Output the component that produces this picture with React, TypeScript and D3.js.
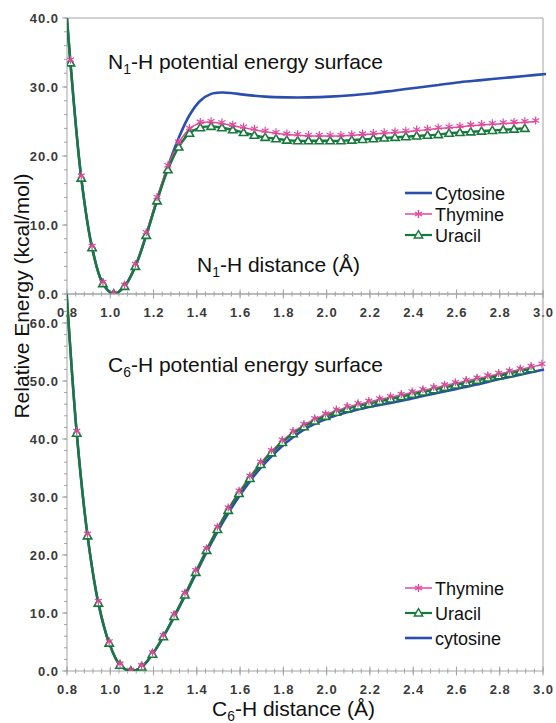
import React, { useEffect, useRef } from 'react';
import * as d3 from 'd3';

// N1-H scan (top panel)
const N1H_X = [0.766, 0.816, 0.866, 0.916, 0.966, 1.016, 1.066, 1.116, 1.166, 1.216, 1.266, 1.316, 1.366, 1.416, 1.466, 1.516, 1.566, 1.616, 1.666, 1.716, 1.766, 1.816, 1.866, 1.916, 1.966, 2.016, 2.066, 2.116, 2.166, 2.216, 2.266, 2.316, 2.366, 2.416, 2.466, 2.516, 2.566, 2.616, 2.666, 2.716, 2.766, 2.816, 2.866, 2.916, 2.966];
const N1H_THYMINE = [55.0, 33.8, 17.0, 6.8, 1.6, 0.0, 1.2, 4.2, 8.8, 13.9, 18.5, 21.9, 23.9, 24.8, 24.9, 24.7, 24.4, 24.1, 23.8, 23.5, 23.3, 23.1, 23.0, 22.9, 22.9, 22.9, 22.9, 23.0, 23.1, 23.2, 23.3, 23.4, 23.5, 23.7, 23.8, 24.0, 24.1, 24.2, 24.4, 24.5, 24.6, 24.7, 24.8, 24.9, 25.0];
const N1H_URACIL = [55.0, 33.5, 16.8, 6.7, 1.5, 0.0, 1.1, 4.0, 8.5, 13.5, 18.0, 21.3, 23.3, 24.1, 24.3, 24.1, 23.8, 23.4, 23.0, 22.7, 22.5, 22.3, 22.2, 22.2, 22.2, 22.2, 22.2, 22.3, 22.4, 22.5, 22.6, 22.7, 22.8, 22.9, 23.0, 23.1, 23.3, 23.4, 23.5, 23.6, 23.7, 23.8, 23.9, 24.0];
const N1H_CYT_X = [0.766, 0.816, 0.866, 0.916, 0.966, 1.016, 1.066, 1.116, 1.166, 1.216, 1.266, 1.316, 1.366, 1.416, 1.466, 1.516, 1.566, 1.616, 1.716, 1.816, 1.916, 2.016, 2.116, 2.216, 2.316, 2.416, 2.516, 2.616, 2.716, 2.816, 2.916, 3.016];
const N1H_CYTOSINE = [55.0, 33.5, 16.8, 6.7, 1.5, 0.0, 1.1, 4.0, 8.5, 13.6, 18.4, 22.6, 25.9, 28.0, 29.0, 29.2, 29.1, 28.9, 28.6, 28.5, 28.5, 28.6, 28.8, 29.1, 29.5, 29.9, 30.3, 30.7, 31.0, 31.3, 31.6, 31.9];

// C6-H scan (bottom panel)
const C6H_X = [0.795, 0.845, 0.895, 0.945, 0.995, 1.045, 1.095, 1.145, 1.195, 1.245, 1.295, 1.345, 1.395, 1.445, 1.495, 1.545, 1.595, 1.645, 1.695, 1.745, 1.795, 1.845, 1.895, 1.945, 1.995, 2.045, 2.095, 2.145, 2.195, 2.245, 2.295, 2.345, 2.395, 2.445, 2.495, 2.545, 2.595, 2.645, 2.695, 2.745, 2.795, 2.845, 2.895, 2.945, 2.995];
const C6H_THYMINE = [67.2, 41.2, 23.5, 11.9, 4.9, 1.1, 0.0, 0.8, 3.0, 6.0, 9.6, 13.3, 17.2, 21.0, 24.7, 28.0, 30.9, 33.5, 35.9, 37.9, 39.7, 41.2, 42.4, 43.4, 44.2, 44.9, 45.5, 46.0, 46.4, 46.8, 47.2, 47.6, 48.0, 48.4, 48.8, 49.2, 49.6, 50.0, 50.4, 50.8, 51.2, 51.6, 52.0, 52.4, 52.8];
const C6H_URACIL = [67.0, 41.0, 23.3, 11.7, 4.8, 1.0, 0.0, 0.7, 2.9, 5.9, 9.4, 13.1, 17.0, 20.8, 24.4, 27.7, 30.6, 33.2, 35.6, 37.6, 39.4, 40.9, 42.1, 43.1, 43.9, 44.6, 45.2, 45.7, 46.1, 46.5, 46.9, 47.3, 47.7, 48.1, 48.5, 48.9, 49.3, 49.7, 50.1, 50.5, 50.9, 51.3, 51.7, 52.1];
const C6H_CYT_X = [0.795, 0.845, 0.895, 0.945, 0.995, 1.045, 1.095, 1.145, 1.195, 1.245, 1.295, 1.345, 1.395, 1.445, 1.495, 1.545, 1.595, 1.645, 1.695, 1.745, 1.795, 1.845, 1.895, 1.945, 1.995, 2.045, 2.095, 2.195, 2.295, 2.395, 2.495, 2.595, 2.695, 2.795, 2.895, 3.005];
const C6H_CYTOSINE = [67.0, 41.0, 23.3, 11.7, 4.8, 1.0, 0.0, 0.7, 2.9, 5.9, 9.3, 12.9, 16.7, 20.5, 24.0, 27.2, 30.1, 32.7, 35.0, 37.0, 38.8, 40.3, 41.6, 42.6, 43.4, 44.1, 44.6, 45.5, 46.2, 47.0, 47.8, 48.6, 49.4, 50.3, 51.1, 52.0];

const X_TICKS = [0.8, 1.0, 1.2, 1.4, 1.6, 1.8, 2.0, 2.2, 2.4, 2.6, 2.8, 3.0];
const TOP_Y_TICKS = [0, 10, 20, 30, 40];
const BOTTOM_Y_TICKS = [0, 10, 20, 30, 40, 50, 60];

const BLUE = '#2b4eae';
const PINK = '#e2489e';
const GREEN = '#177a3c';
const AXIS = '#a3a3a3';
const FONT = '"Liberation Sans", Arial, sans-serif';

const W = 556;
const H = 723;
const LEFT = 67;
const RIGHT = 543;

const zip = (xs: number[], ys: number[]) => ys.map((y, i) => [xs[i], y] as [number, number]);

const STAR = 'M0,-4L0,4M-3.5,-2L3.5,2M-3.5,2L3.5,-2';
const TRI = 'M0,-4.3L4.2,3L-4.2,3Z';

const App = () => {
  const ref = useRef<SVGSVGElement>(null);

  useEffect(() => {
    document.body.style.margin = '0';
    const svg = d3.select(ref.current);
    svg.selectAll('*').remove();

    const x = d3.scaleLinear().domain([0.8, 3.0]).range([LEFT, RIGHT]);

    const tickText = (sel: any) =>
      sel
        .style('font-family', FONT)
        .style('font-size', '13px')
        .style('font-weight', 'bold')
        .style('letter-spacing', '1px')
        .style('fill', '#3a3a3a');

    const drawPanel = (
      id: string,
      yTop: number,
      yBottom: number,
      yMax: number,
      yTicks: number[],
      cyt: [number, number][],
      thy: [number, number][],
      ura: [number, number][],
    ) => {
      const y = d3.scaleLinear().domain([0, yMax]).range([yBottom, yTop]);
      const g = svg.append('g');

      g.append('clipPath')
        .attr('id', id)
        .append('rect')
        .attr('x', LEFT)
        .attr('y', yTop)
        .attr('width', RIGHT - LEFT + 3)
        .attr('height', yBottom - yTop);

      // frame: top + right in gray
      g.append('line').attr('x1', LEFT).attr('x2', RIGHT).attr('y1', yTop).attr('y2', yTop).attr('stroke', AXIS);
      g.append('line').attr('x1', RIGHT).attr('x2', RIGHT).attr('y1', yTop).attr('y2', yBottom).attr('stroke', AXIS);

      // y axis
      g.append('line').attr('x1', LEFT).attr('x2', LEFT).attr('y1', yTop).attr('y2', yBottom).attr('stroke', AXIS);
      const yMinor = d3.range(0, yMax + 0.001, 2);
      g.selectAll('.ymin')
        .data(yMinor)
        .enter()
        .append('line')
        .attr('x1', LEFT - 3)
        .attr('x2', LEFT)
        .attr('y1', d => y(d))
        .attr('y2', d => y(d))
        .attr('stroke', AXIS);
      g.selectAll('.ymaj')
        .data(yTicks)
        .enter()
        .append('line')
        .attr('x1', LEFT - 5)
        .attr('x2', LEFT)
        .attr('y1', d => y(d))
        .attr('y2', d => y(d))
        .attr('stroke', AXIS);
      g.selectAll('.ylab')
        .data(yTicks)
        .enter()
        .append('text')
        .attr('x', LEFT - 8)
        .attr('y', d => y(d) + 4.7)
        .attr('text-anchor', 'end')
        .call(tickText)
        .text(d => d3.format('.1f')(d));

      // x axis
      g.append('line').attr('x1', LEFT).attr('x2', RIGHT).attr('y1', yBottom).attr('y2', yBottom).attr('stroke', AXIS);
      const xMinor = d3.range(0.8, 3.0001, 0.04);
      g.selectAll('.xmin')
        .data(xMinor)
        .enter()
        .append('line')
        .attr('x1', d => x(d))
        .attr('x2', d => x(d))
        .attr('y1', yBottom - 2.5)
        .attr('y2', yBottom + 2.5)
        .attr('stroke', AXIS);
      g.selectAll('.xmaj')
        .data(X_TICKS)
        .enter()
        .append('line')
        .attr('x1', d => x(d))
        .attr('x2', d => x(d))
        .attr('y1', yBottom - 4.5)
        .attr('y2', yBottom + 4.5)
        .attr('stroke', AXIS);
      g.selectAll('.xlab')
        .data(X_TICKS)
        .enter()
        .append('text')
        .attr('x', d => x(d) + 0.5)
        .attr('y', yBottom + 23)
        .attr('text-anchor', 'middle')
        .call(tickText)
        .text(d => d3.format('.1f')(d));

      const line = d3
        .line<[number, number]>()
        .x(d => x(d[0]))
        .y(d => y(d[1]))
        .curve(d3.curveCatmullRom.alpha(0.5));

      const plot = g.append('g').attr('clip-path', `url(#${id})`);
      plot.append('path').attr('d', line(cyt)).attr('fill', 'none').attr('stroke', BLUE).attr('stroke-width', 2.6);
      plot.append('path').attr('d', line(thy)).attr('fill', 'none').attr('stroke', PINK).attr('stroke-width', 1.5);
      plot.append('path').attr('d', line(ura)).attr('fill', 'none').attr('stroke', GREEN).attr('stroke-width', 2.4);

      plot
        .selectAll('.tri')
        .data(ura)
        .enter()
        .append('path')
        .attr('d', TRI)
        .attr('transform', d => `translate(${x(d[0])},${y(d[1])})`)
        .attr('fill', '#fff')
        .attr('stroke', GREEN)
        .attr('stroke-width', 1.6);
      plot
        .selectAll('.star')
        .data(thy)
        .enter()
        .append('path')
        .attr('d', STAR)
        .attr('transform', d => `translate(${x(d[0])},${y(d[1]) - 1})`)
        .attr('fill', 'none')
        .attr('stroke', PINK)
        .attr('stroke-width', 1.2);
    };

    drawPanel('clipTop', 18, 294, 40, TOP_Y_TICKS,
      zip(N1H_CYT_X, N1H_CYTOSINE), zip(N1H_X, N1H_THYMINE), zip(N1H_X, N1H_URACIL));
    drawPanel('clipBottom', 294, 671, 65, BOTTOM_Y_TICKS,
      zip(C6H_CYT_X, C6H_CYTOSINE), zip(C6H_X, C6H_THYMINE), zip(C6H_X, C6H_URACIL));

    // titles with subscripts
    const subText = (xp: number, yp: number, a: string, sub: string, b: string, size: number) => {
      const t = svg
        .append('text')
        .attr('x', xp)
        .attr('y', yp)
        .style('font-family', FONT)
        .style('font-size', `${size}px`)
        .style('fill', '#111');
      t.append('tspan').text(a);
      t.append('tspan').attr('dy', 4.5).style('font-size', `${size * 0.66}px`).text(sub);
      t.append('tspan').attr('dy', -4.5).text(b);
    };
    subText(108, 69, 'N', '1', '-H potential energy surface', 21);
    subText(108, 372, 'C', '6', '-H potential energy surface', 21);
    subText(197, 272, 'N', '1', '-H distance (Å)', 21);
    subText(212, 716, 'C', '6', '-H distance (Å)', 21);

    svg
      .append('text')
      .attr('transform', 'translate(29,296) rotate(-90)')
      .attr('text-anchor', 'middle')
      .style('font-family', FONT)
      .style('font-size', '21px')
      .style('fill', '#111')
      .text('Relative Energy (kcal/mol)');

    // legends
    const legend = (items: { name: string; color: string; mark: string | null; width: number }[], y0: number, step: number) => {
      items.forEach((it, i) => {
        const yy = y0 + i * step;
        svg.append('line').attr('x1', 405).attr('x2', 432).attr('y1', yy).attr('y2', yy).attr('stroke', it.color).attr('stroke-width', it.width);
        if (it.mark) {
          svg
            .append('path')
            .attr('d', it.mark)
            .attr('transform', `translate(418.5,${yy})`)
            .attr('fill', it.mark === TRI ? '#fff' : 'none')
            .attr('stroke', it.color)
            .attr('stroke-width', 1.4);
        }
        svg
          .append('text')
          .attr('x', 435)
          .attr('y', yy + 6.5)
          .style('font-family', FONT)
          .style('font-size', '18px')
          .style('fill', '#111')
          .text(it.name);
      });
    };
    legend(
      [
        { name: 'Cytosine', color: BLUE, mark: null, width: 2.6 },
        { name: 'Thymine', color: PINK, mark: STAR, width: 1.5 },
        { name: 'Uracil', color: GREEN, mark: TRI, width: 2.2 },
      ],
      193,
      21,
    );
    legend(
      [
        { name: 'Thymine', color: PINK, mark: STAR, width: 1.5 },
        { name: 'Uracil', color: GREEN, mark: TRI, width: 2.2 },
        { name: 'cytosine', color: BLUE, mark: null, width: 2.6 },
      ],
      588,
      25,
    );
  }, []);

  return <svg ref={ref} width={W} height={H} style={{ display: 'block', background: '#fff' }} />;
};

export default App;
